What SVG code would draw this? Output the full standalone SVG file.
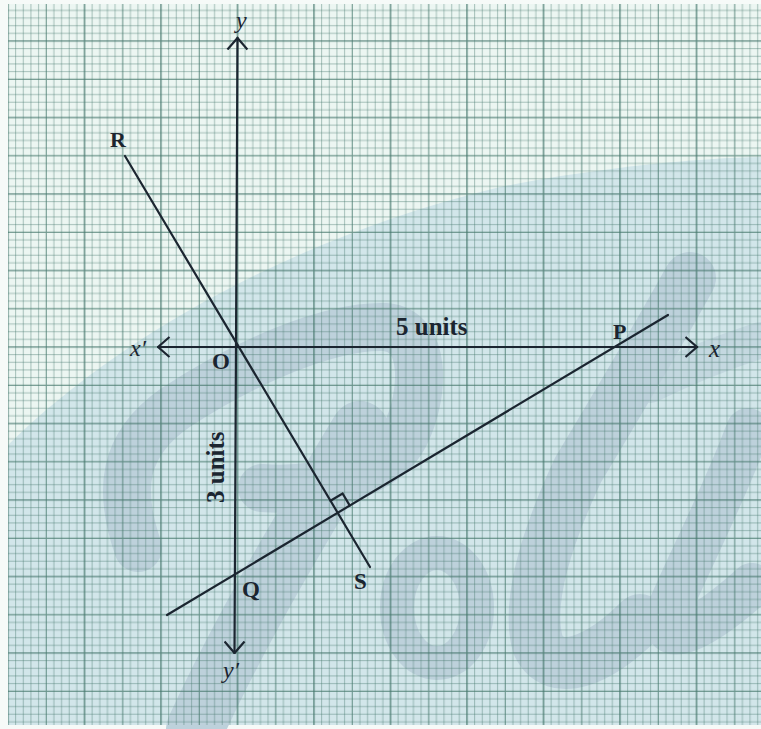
<svg xmlns="http://www.w3.org/2000/svg" width="761" height="729" viewBox="0 0 761 729">
<style>
.ln{stroke:#1b2530;stroke-width:2.2;fill:none;stroke-linecap:round}
.lb{font-family:"Liberation Serif","Times New Roman",serif;font-weight:bold;fill:#1b2530}
.it{font-family:"Liberation Serif","Times New Roman",serif;font-style:italic;fill:#1b2530}
.wm{fill:none;stroke:#bdd1db;stroke-linecap:round;stroke-linejoin:round}
</style>
<defs>
<pattern id="grid" patternUnits="userSpaceOnUse" x="4.175" y="37.175" width="76.5" height="76.5">
<g stroke="#44766b" fill="none">
<path stroke-width="0.8" stroke-opacity="0.55" d="M11.475,0V76.5M19.125,0V76.5M26.775,0V76.5M34.425,0V76.5M49.725,0V76.5M57.375,0V76.5M65.025,0V76.5M72.675,0V76.5M0,11.475H76.5M0,19.125H76.5M0,26.775H76.5M0,34.425H76.5M0,49.725H76.5M0,57.375H76.5M0,65.025H76.5M0,72.675H76.5"/>
<path stroke-width="1.1" stroke-opacity="0.75" d="M42.075,0V76.5M0,42.075H76.5"/>
<path stroke-width="1.4" stroke-opacity="0.85" d="M3.825,0V76.5M0,3.825H76.5"/>
</g>
</pattern>
<marker id="arr" viewBox="0 0 14 22" refX="12.5" refY="11" markerWidth="14" markerHeight="22" markerUnits="userSpaceOnUse" orient="auto-start-reverse">
<path d="M1,1 L12.5,11 L1,21" fill="none" stroke="#1b2530" stroke-width="2.2"/>
</marker>
</defs>
<g id="background">
<rect x="0" y="0" width="761" height="729" fill="#f6faf8"/>
<rect x="8" y="4" width="753" height="721" fill="#ecf6f2"/>
</g>
<g id="watermark">
<path d="M8,445 C120,335 300,235 500,187 C600,167 700,158 761,157 L761,725 L8,725 Z" fill="#d2e6ea"/>
<path class="wm" stroke-width="48" d="M138,548 C118,490 122,445 175,408 C245,362 330,325 385,327 C428,330 425,395 405,435 C385,475 320,492 262,488"/>
<path class="wm" stroke-width="58" d="M195,729 C240,630 300,530 360,430"/>
<ellipse class="wm" stroke-width="34" cx="437" cy="608" rx="40" ry="55"/>
<path class="wm" stroke-width="52" d="M690,278 C650,350 605,425 578,470 C550,530 525,600 538,645 C555,680 600,660 640,620"/>
<path class="wm" stroke-width="44" d="M748,430 C722,500 685,570 668,612 C658,650 700,632 752,585"/>
<path class="wm" stroke-width="36" stroke-opacity="0.7" d="M650,385 C690,365 730,350 761,340"/>
</g>
<rect id="grid-paper" x="8" y="4" width="753" height="721" fill="url(#grid)"/>
<g id="connectors">
<line id="x-axis" class="ln" x1="158" y1="347" x2="697" y2="347" marker-start="url(#arr)" marker-end="url(#arr)"/>
<line id="y-axis" class="ln" x1="237.5" y1="38" x2="234.5" y2="653" marker-start="url(#arr)" marker-end="url(#arr)"/>
<line id="line-PQ" class="ln" x1="167" y1="615" x2="668" y2="315"/>
<line id="line-RS" class="ln" x1="125" y1="156" x2="370" y2="567"/>
<path id="right-angle" class="ln" stroke-width="1.8" stroke-linecap="butt" d="M330.5,500.8 L342.6,493.5 L349.8,505.6"/>
</g>
<g id="labels">
<text class="it" x="236" y="28" font-size="24">y</text>
<text class="lb" x="110" y="147" font-size="22">R</text>
<text class="it" x="130" y="356" font-size="24">x′</text>
<text class="lb" x="212" y="369" font-size="23">O</text>
<text class="lb" x="396" y="335" font-size="25">5 units</text>
<text class="lb" x="613" y="339" font-size="22">P</text>
<text class="it" x="709" y="357" font-size="25">x</text>
<text class="lb" font-size="25" transform="translate(224,503) rotate(-90)">3 units</text>
<text class="lb" x="242" y="597" font-size="23">Q</text>
<text class="lb" x="354" y="589" font-size="23">S</text>
<text class="it" x="223" y="678" font-size="24">y′</text>
</g>
</svg>
